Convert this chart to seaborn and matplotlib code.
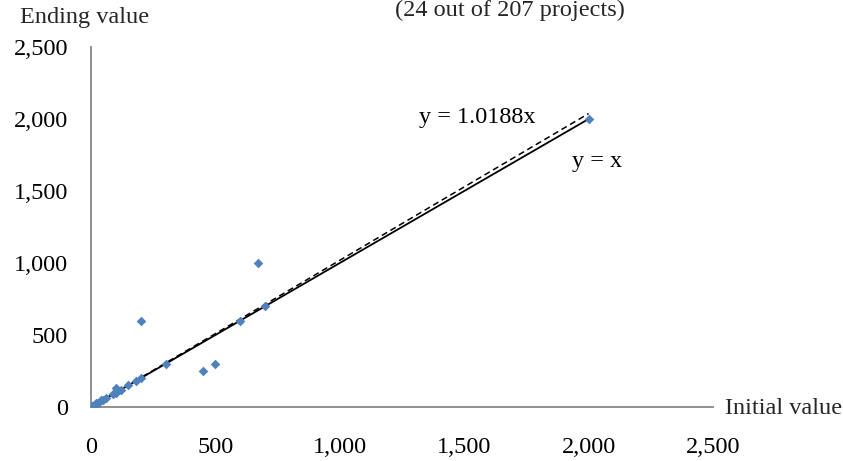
import numpy as np
import pandas as pd
import matplotlib
matplotlib.use("Agg")
import matplotlib.pyplot as plt
import seaborn as sns
from matplotlib.ticker import FuncFormatter, MultipleLocator

initial_value = [5, 10, 15, 20, 25, 30, 40, 50, 60, 90, 100, 100, 120, 150, 180, 200, 200, 300, 450, 500, 600, 670, 700, 2000]
ending_value = [10, 10, 15, 25, 20, 30, 50, 50, 60, 90, 100, 130, 120, 150, 180, 200, 600, 300, 250, 300, 600, 1000, 700, 2000]
trend_slope = 1.0188
line_x = [0, 2000]

sns.set_theme(style="white")
plt.rcParams['font.family'] = ['Liberation Serif', 'DejaVu Serif']

FS = 17.5
fig = plt.figure(figsize=(8.43, 4.61), dpi=100)
ax = fig.add_axes([91/843, 1-407/461, 622/843, 360/461])

df = pd.DataFrame({"x": initial_value, "y": ending_value})
sns.scatterplot(data=df, x="x", y="y", marker="D", s=24, color="#4F81BD",
                edgecolor="#4F81BD", linewidth=0, ax=ax, zorder=3)

lx = np.array(line_x, dtype=float)
sns.lineplot(x=lx, y=lx, color="black", linewidth=1.3, ax=ax, zorder=2)
sns.lineplot(x=lx, y=trend_slope*lx, color="black", linewidth=1.1, linestyle=(0, (4, 2.5)), ax=ax, zorder=2)

ax.set_xlim(0, 2500)
ax.set_ylim(0, 2500)
ax.xaxis.set_major_locator(MultipleLocator(500))
ax.yaxis.set_major_locator(MultipleLocator(500))
fmt = FuncFormatter(lambda v, p: f"{int(v):,}")
ax.xaxis.set_major_formatter(fmt)
ax.yaxis.set_major_formatter(fmt)
ax.set_xlabel("")
ax.set_ylabel("")

for s in ["top", "right"]:
    ax.spines[s].set_visible(False)
for s in ["left", "bottom"]:
    ax.spines[s].set_color("#868686")
    ax.spines[s].set_linewidth(1.3)

ax.tick_params(axis="both", which="major", direction="out", length=4.5, width=1.2,
               color="#868686", labelsize=FS, labelcolor="black")
ax.tick_params(axis="x", pad=17)
ax.tick_params(axis="y", pad=12)

ax.text(1551, 2007, "y = 1.0188x", fontsize=FS, ha="center", va="center", color="black")
ax.text(2034, 1708, "y = x", fontsize=FS, ha="center", va="center", color="black")

fig.text(20/843, 1-18/461, "Ending value", fontsize=FS, ha="left", va="center")
fig.text(725/843, 1-408/461, "Initial value", fontsize=FS, ha="left", va="center")
fig.text(510/843, 1-10/461, "(24 out of 207 projects)", fontsize=FS, ha="center", va="center")

fig.savefig("out.png", dpi=100)
